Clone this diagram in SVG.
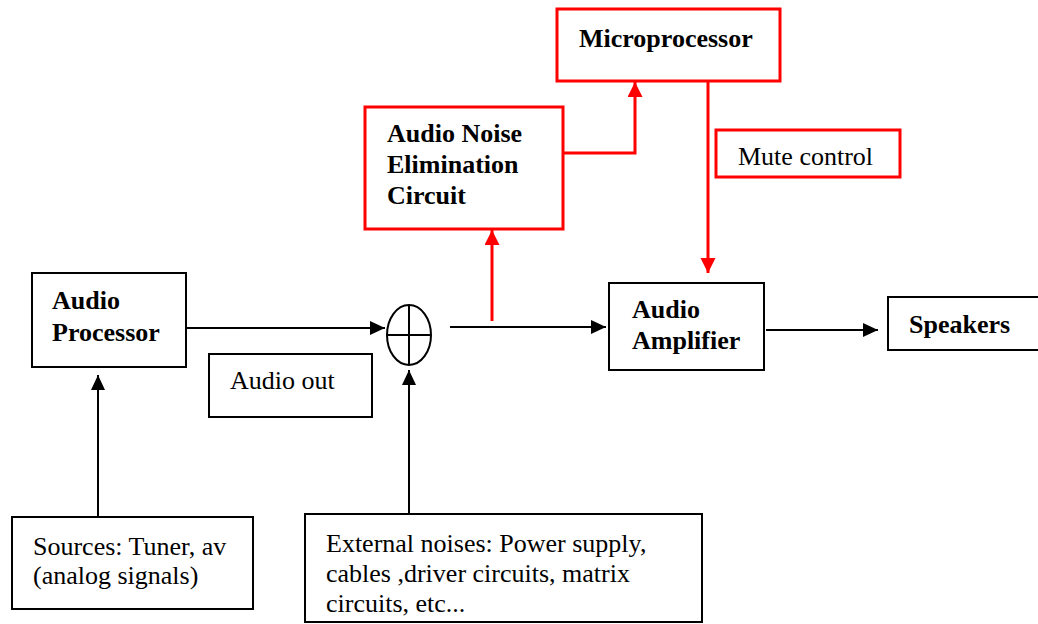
<svg xmlns="http://www.w3.org/2000/svg" width="1038" height="624" viewBox="0 0 1038 624">
<style>
.bk{fill:#fff;stroke:#000;stroke-width:2}
.rd{fill:#fff;stroke:#f00;stroke-width:3}
.t{font-family:"Liberation Serif","Times New Roman",serif;font-size:26px;fill:#000}
.b{font-weight:bold}
.cb{fill:none;stroke:#000;stroke-width:2}
.cr{fill:none;stroke:#f00;stroke-width:3}
</style>
<defs>
<marker id="ab" markerUnits="userSpaceOnUse" markerWidth="16" markerHeight="16" refX="15" refY="7" orient="auto"><path d="M0,0 L15,7 L0,14 Z" fill="#000"/></marker>
<marker id="ar" markerUnits="userSpaceOnUse" markerWidth="16" markerHeight="16" refX="15" refY="7.5" orient="auto"><path d="M0,0 L15,7.5 L0,15 Z" fill="#f00"/></marker>
</defs>
<rect width="1038" height="624" fill="#fff"/>
<g id="connectors">
<path class="cb" d="M187,328 H385" marker-end="url(#ab)"/>
<path class="cb" d="M98,516 V375" marker-end="url(#ab)"/>
<path class="cb" d="M409,514 V370" marker-end="url(#ab)"/>
<path class="cb" d="M450,327 H606" marker-end="url(#ab)"/>
<path class="cb" d="M766,330 H878" marker-end="url(#ab)"/>
<path class="cr" d="M492,321 V230" marker-end="url(#ar)"/>
<path class="cr" d="M564,153 H635 V82" marker-end="url(#ar)"/>
<path class="cr" d="M708,81 V273" marker-end="url(#ar)"/>
</g>
<g id="microprocessor">
<rect class="rd" x="557" y="9" width="223" height="72"/>
<text class="t b" x="579" y="47">Microprocessor</text>
</g>
<g id="noise-elimination">
<rect class="rd" x="365" y="107" width="198" height="122"/>
<text class="t b" x="387" y="142">Audio Noise</text>
<text class="t b" x="387" y="173">Elimination</text>
<text class="t b" x="387" y="204">Circuit</text>
</g>
<g id="mute-control">
<rect class="rd" x="716" y="130" width="184" height="47"/>
<text class="t" x="738" y="165">Mute control</text>
</g>
<g id="audio-processor">
<rect class="bk" x="32" y="273" width="154" height="94"/>
<text class="t b" x="52" y="309">Audio</text>
<text class="t b" x="52" y="341">Processor</text>
</g>
<g id="audio-out">
<rect class="bk" x="209" y="354" width="163" height="63"/>
<text class="t" x="230" y="389">Audio out</text>
</g>
<g id="summer">
<ellipse class="bk" cx="409" cy="335" rx="22" ry="30"/>
<path class="cb" d="M387,335 H431 M409,305 V365"/>
</g>
<g id="audio-amplifier">
<rect class="bk" x="609" y="283" width="155" height="87"/>
<text class="t b" x="632" y="318">Audio</text>
<text class="t b" x="632" y="349">Amplifier</text>
</g>
<g id="speakers">
<rect class="bk" x="888" y="297" width="160" height="53"/>
<text class="t b" x="909" y="333">Speakers</text>
</g>
<g id="sources">
<rect class="bk" x="12" y="517" width="241" height="92"/>
<text class="t" x="33" y="555">Sources: Tuner, av</text>
<text class="t" x="33" y="584">(analog signals)</text>
</g>
<g id="external-noises">
<rect class="bk" x="305" y="514" width="397" height="108"/>
<text class="t" x="326" y="552">External noises: Power supply,</text>
<text class="t" x="326" y="582">cables ,driver circuits, matrix</text>
<text class="t" x="326" y="612">circuits, etc...</text>
</g>
</svg>
